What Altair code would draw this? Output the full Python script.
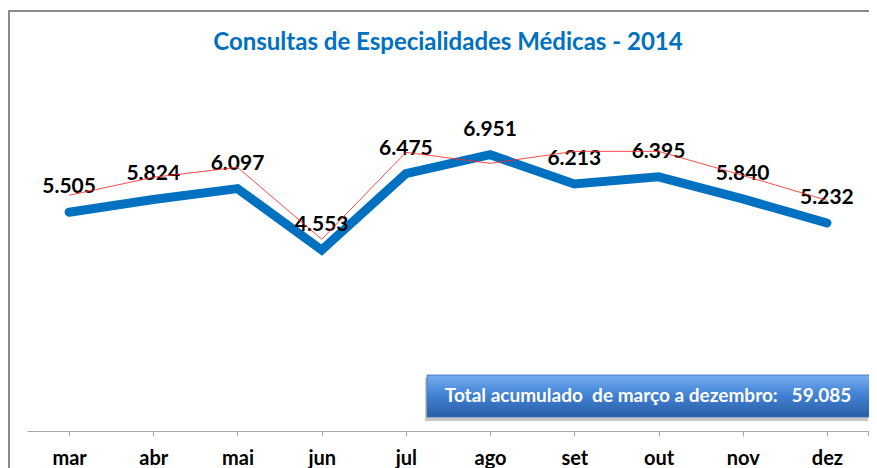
import altair as alt
import pandas as pd

meses = ["mar", "abr", "mai", "jun", "jul", "ago", "set", "out", "nov", "dez"]
consultas = [5505, 5824, 6097, 4553, 6475, 6951, 6213, 6395, 5840, 5232]
# thin red guide line that runs through the data labels
guia = [5930, 6382, 6633, 4824, 7010, 6734, 7035, 7035, 6432, 5804]

titulo = "Consultas de Especialidades Médicas - 2014"
total = sum(consultas)
fmt = lambda v: f"{v:,}".replace(",", ".")

df = pd.DataFrame({
    "mes": meses,
    "consultas": consultas,
    "guia": guia,
    "rotulo": [fmt(v) for v in consultas],
})

FONT = "Lato"
W, H = 842, 318

x_enc = alt.X("mes:N", sort=meses, scale=alt.Scale(paddingInner=0, paddingOuter=0),
              axis=alt.Axis(title=None, labelAngle=0, bandPosition=0, tickSize=5,
                            tickColor="#a6a6a6", domainColor="#a6a6a6", domainWidth=1,
                            labelFont=FONT, labelFontSize=20, labelFontWeight="bold",
                            labelColor="#000000", labelPadding=22, labelBaseline="middle",
                            grid=False))
y_scale = alt.Scale(domain=[0, 8000], nice=False, zero=True)

base = alt.Chart(df)

linha = base.mark_line(color="#0070C0", strokeWidth=9, strokeCap="round").encode(
    x=x_enc, y=alt.Y("consultas:Q", scale=y_scale, axis=None))

linha_guia = base.mark_line(color="#ff2a2a", strokeWidth=1, opacity=0.85).encode(
    x=alt.X("mes:N", sort=meses), y=alt.Y("guia:Q", scale=y_scale, axis=None))

rotulos = base.mark_text(dy=-25, baseline="middle", font=FONT, fontSize=21,
                         fontWeight="bold", color="#000000").encode(
    x=alt.X("mes:N", sort=meses), y=alt.Y("consultas:Q", scale=y_scale, axis=None),
    text="rotulo:N")

box_df = pd.DataFrame({
    "txt": ["Total acumulado\u00a0 de março a dezembro:\u00a0\u00a0 " + fmt(total)],
    "titulo": [titulo],
})
box = alt.Chart(box_df)
sombra = box.mark_rect(color="#808080", opacity=0.45).encode(
    x=alt.value(398), x2=alt.value(841), y=alt.value(265), y2=alt.value(308))
caixa = box.mark_rect(
    color=alt.LinearGradient(gradient="linear", x1=0, x2=0, y1=0, y2=1,
                             stops=[alt.GradientStop(offset=0, color="#78aef0"),
                                    alt.GradientStop(offset=0.45, color="#4384d6"),
                                    alt.GradientStop(offset=1, color="#2a5ea5")]),
    stroke="#3a6fb5", strokeWidth=0.8).encode(
    x=alt.value(400), x2=alt.value(843), y=alt.value(262), y2=alt.value(304))
caixa_txt = box.mark_text(font=FONT, fontSize=19, fontWeight="bold", color="#ffffff",
                          baseline="middle", align="center").encode(
    x=alt.value(621), y=alt.value(283), text="txt:N")

titulo_txt = box.mark_text(font=FONT, fontSize=24, fontWeight="bold", color="#0070C0",
                           baseline="middle", align="center").encode(
    x=alt.value(421), y=alt.value(-70), text="titulo:N")

borda_top = box.mark_rule(color="#8a8a8a", strokeWidth=2).encode(
    x=alt.value(-18), x2=alt.value(W + 40), y=alt.value(-102), y2=alt.value(-102))
borda_left = box.mark_rule(color="#8a8a8a", strokeWidth=2).encode(
    x=alt.value(-18), x2=alt.value(-18), y=alt.value(-103), y2=alt.value(H + 60))
tick_fim = box.mark_rule(color="#a6a6a6", strokeWidth=1).encode(
    x=alt.value(W - 0.5), x2=alt.value(W - 0.5), y=alt.value(H), y2=alt.value(H + 5))

chart = alt.layer(
    borda_top, borda_left, titulo_txt, linha, rotulos, linha_guia, sombra, caixa,
    caixa_txt, tick_fim
).properties(
    width=W, height=H,
    padding={"left": 19, "top": 105, "right": 0, "bottom": 37},
    autosize=alt.AutoSizeParams(type="none"),
    background="#ffffff",
).configure_view(stroke=None)

chart.save("out.html", embed_options={"renderer": "svg", "actions": False})
